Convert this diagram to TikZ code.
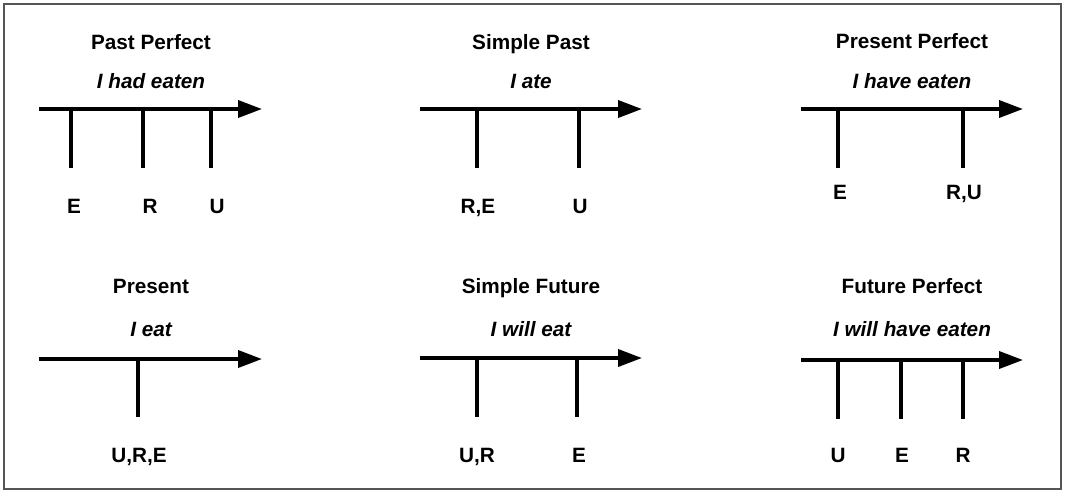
\documentclass[tikz,border=0pt]{standalone}
\usepackage{fontspec}
\setmainfont{Liberation Sans}
\usepackage{tikz}
\usetikzlibrary{arrows.meta}
\definecolor{framegray}{RGB}{85,85,85}

\begin{document}
\begin{tikzpicture}[x=0.02cm, y=-0.02cm]

\tikzstyle{tense} = [font=\fontsize{11.8}{14}\selectfont\bfseries, anchor=base, inner sep=0pt]
\tikzstyle{sentence} = [font=\fontsize{11.8}{14}\selectfont\bfseries\itshape, anchor=base, inner sep=0pt]
\tikzstyle{letter} = [font=\fontsize{11.8}{14}\selectfont\bfseries, anchor=base, inner sep=0pt]
\tikzstyle{arrow} = [line width=2.1pt, -{Triangle[length=4.8mm, width=3.4mm]}]
\tikzstyle{tick} = [line width=1.8pt]

\useasboundingbox (0,0) rectangle (1066,495);
\draw [framegray, line width=0.9pt] (4,4) rectangle (1061,489);

% Past Perfect
\node (pp) [tense] at (151,49) {Past Perfect};
\node (ppS) [sentence] at (151,88) {I had eaten};
\coordinate (ppA) at (39,109);
\coordinate (ppB) at (262,109);
\coordinate (ppEt) at (71,109);
\coordinate (ppEb) at (71,168);
\coordinate (ppRt) at (143,109);
\coordinate (ppRb) at (143,168);
\coordinate (ppUt) at (211,109);
\coordinate (ppUb) at (211,168);
\node (ppE) [letter] at (74,213) {E};
\node (ppR) [letter] at (150,213) {R};
\node (ppU) [letter] at (217,213) {U};
\draw [arrow] (ppA) -- (ppB);
\draw [tick] (ppEt) -- (ppEb);
\draw [tick] (ppRt) -- (ppRb);
\draw [tick] (ppUt) -- (ppUb);

% Simple Past
\node (sp) [tense] at (531,49) {Simple Past};
\node (spS) [sentence] at (531,88) {I ate};
\coordinate (spA) at (420,109);
\coordinate (spB) at (642,109);
\coordinate (spREt) at (477,109);
\coordinate (spREb) at (477,168);
\coordinate (spUt) at (579,109);
\coordinate (spUb) at (579,168);
\node (spRE) [letter] at (478,213) {R,E};
\node (spU) [letter] at (580,213) {U};
\draw [arrow] (spA) -- (spB);
\draw [tick] (spREt) -- (spREb);
\draw [tick] (spUt) -- (spUb);

% Present Perfect
\node (prp) [tense] at (912,48) {Present Perfect};
\node (prpS) [sentence] at (912,88) {I have eaten};
\coordinate (prpA) at (801,109);
\coordinate (prpB) at (1023,109);
\coordinate (prpEt) at (838,109);
\coordinate (prpEb) at (838,168);
\coordinate (prpRUt) at (963,109);
\coordinate (prpRUb) at (963,168);
\node (prpE) [letter] at (840,199) {E};
\node (prpRU) [letter] at (964,199) {R,U};
\draw [arrow] (prpA) -- (prpB);
\draw [tick] (prpEt) -- (prpEb);
\draw [tick] (prpRUt) -- (prpRUb);

% Present
\node (pr) [tense] at (151,293) {Present};
\node (prS) [sentence] at (151,336) {I eat};
\coordinate (prA) at (39,359);
\coordinate (prB) at (262,359);
\coordinate (prUREt) at (138,359);
\coordinate (prUREb) at (138,417);
\node (prURE) [letter] at (139,462) {U,R,E};
\draw [arrow] (prA) -- (prB);
\draw [tick] (prUREt) -- (prUREb);

% Simple Future
\node (sf) [tense] at (531,293) {Simple Future};
\node (sfS) [sentence] at (531,336) {I will eat};
\coordinate (sfA) at (420,358);
\coordinate (sfB) at (642,358);
\coordinate (sfURt) at (477,358);
\coordinate (sfURb) at (477,417);
\coordinate (sfEt) at (577,358);
\coordinate (sfEb) at (577,417);
\node (sfUR) [letter] at (477,462) {U,R};
\node (sfE) [letter] at (579,462) {E};
\draw [arrow] (sfA) -- (sfB);
\draw [tick] (sfURt) -- (sfURb);
\draw [tick] (sfEt) -- (sfEb);

% Future Perfect
\node (fp) [tense] at (912,293) {Future Perfect};
\node (fpS) [sentence] at (912,336) {I will have eaten};
\coordinate (fpA) at (801,360);
\coordinate (fpB) at (1023,360);
\coordinate (fpUt) at (838,360);
\coordinate (fpUb) at (838,419);
\coordinate (fpEt) at (901,360);
\coordinate (fpEb) at (901,419);
\coordinate (fpRt) at (963,360);
\coordinate (fpRb) at (963,419);
\node (fpU) [letter] at (838,462) {U};
\node (fpE) [letter] at (902,462) {E};
\node (fpR) [letter] at (963,462) {R};
\draw [arrow] (fpA) -- (fpB);
\draw [tick] (fpUt) -- (fpUb);
\draw [tick] (fpEt) -- (fpEb);
\draw [tick] (fpRt) -- (fpRb);
\end{tikzpicture}
\end{document}
